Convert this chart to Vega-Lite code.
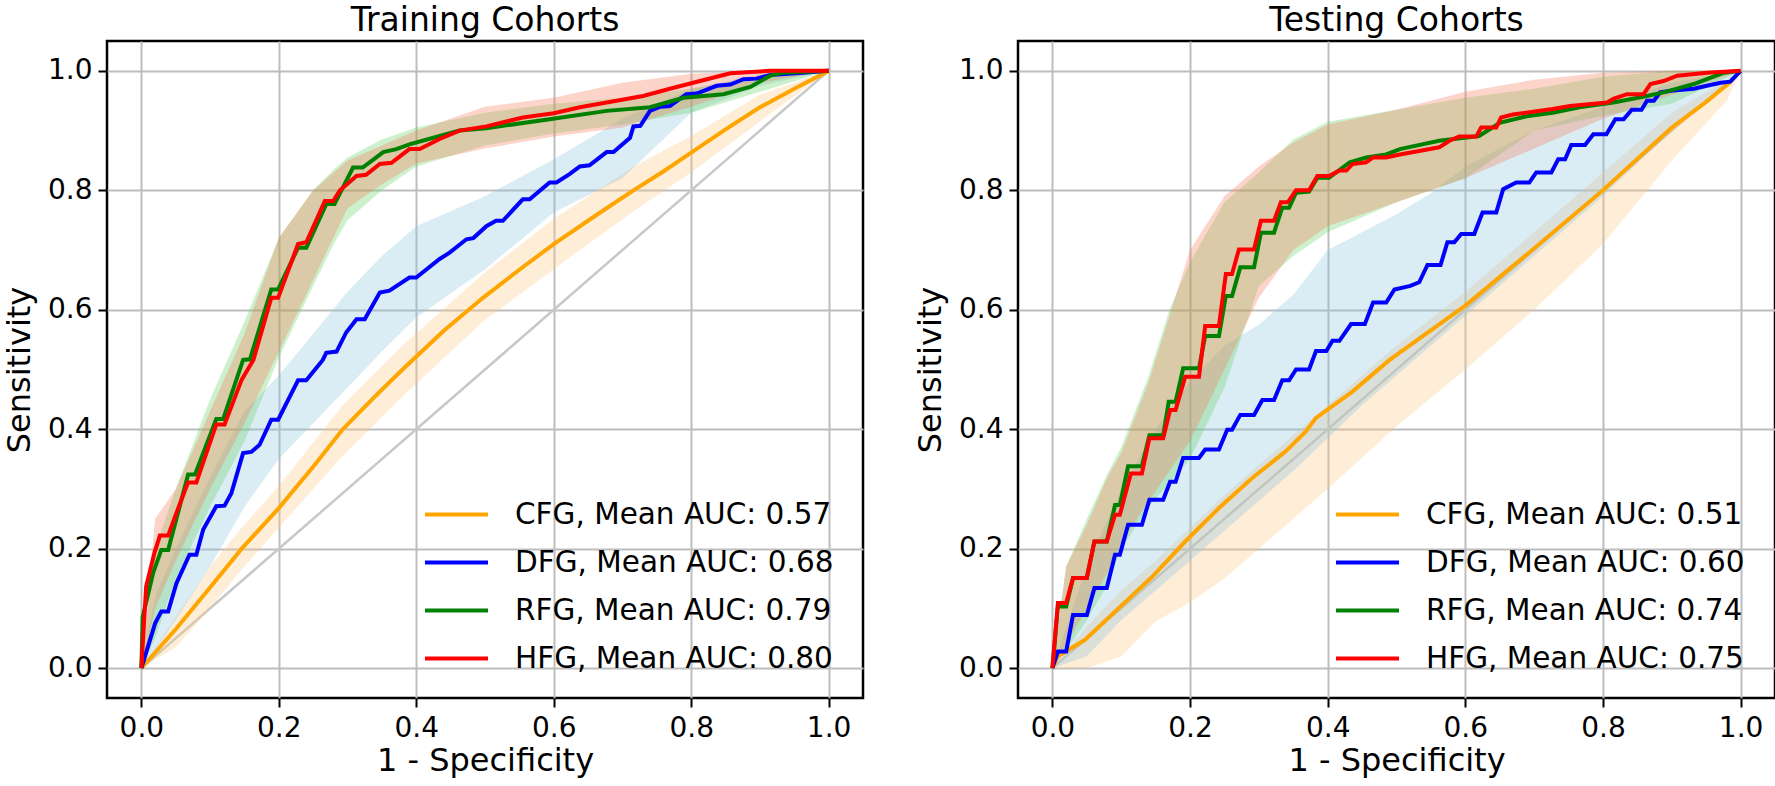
{
  "$schema": "https://vega.github.io/schema/vega-lite/v6.json",
  "padding": {"left": 2, "top": 3, "right": 2, "bottom": 2},
  "config": {
    "font": "DejaVu Sans",
    "view": {"stroke": "black", "strokeWidth": 2.5},
    "title": {"fontSize": 33, "fontWeight": "normal", "font": "DejaVu Sans", "color": "black", "baseline": "alphabetic", "offset": 3, "anchor": "middle", "frame": "group"},
    "axis": {"labelFontSize": 28, "labelFont": "DejaVu Sans", "labelColor": "black", "titleFontSize": 32, "titleFont": "DejaVu Sans", "titleFontWeight": "normal", "titleColor": "black", "tickColor": "black", "tickSize": 9, "tickWidth": 2, "domain": false, "grid": true, "gridColor": "#bdbdbd", "gridWidth": 2, "labelFlush": false, "labelOverlap": false},
    "axisX": {"labelPadding": 7, "titlePadding": 3},
    "axisY": {"labelPadding": 6, "titlePadding": 11},
    "legend": {"orient": "none", "legendX": 316, "legendY": 440, "padding": 0, "symbolType": "stroke", "symbolSize": 3969, "symbolStrokeWidth": 4, "labelFontSize": 29.5, "labelFont": "DejaVu Sans", "labelColor": "black", "labelOffset": 25, "rowPadding": -4, "labelLimit": 0}
  },
  "datasets": {
    "diag": [{"fpr": 0, "tpr": 0}, {"fpr": 1, "tpr": 1}],
    "train_band": [
      {"series": "CFG", "fpr": 0, "lo": 0, "hi": 0}, {"series": "CFG", "fpr": 0.05, "lo": 0.035, "hi": 0.085}, {"series": "CFG", "fpr": 0.1, "lo": 0.1, "hi": 0.17}, {"series": "CFG", "fpr": 0.146, "lo": 0.165, "hi": 0.235}, {"series": "CFG", "fpr": 0.2, "lo": 0.235, "hi": 0.305}, {"series": "CFG", "fpr": 0.293, "lo": 0.355, "hi": 0.44}, {"series": "CFG", "fpr": 0.38, "lo": 0.455, "hi": 0.54}, {"series": "CFG", "fpr": 0.497, "lo": 0.58, "hi": 0.66}, {"series": "CFG", "fpr": 0.6, "lo": 0.668, "hi": 0.752}, {"series": "CFG", "fpr": 0.716, "lo": 0.765, "hi": 0.84}, {"series": "CFG", "fpr": 0.8, "lo": 0.83, "hi": 0.891}, {"series": "CFG", "fpr": 0.9, "lo": 0.915, "hi": 0.96}, {"series": "CFG", "fpr": 1, "lo": 1, "hi": 1},
      {"series": "DFG", "fpr": 0, "lo": 0, "hi": 0}, {"series": "DFG", "fpr": 0.02, "lo": 0.03, "hi": 0.12}, {"series": "DFG", "fpr": 0.05, "lo": 0.08, "hi": 0.2}, {"series": "DFG", "fpr": 0.1, "lo": 0.17, "hi": 0.32}, {"series": "DFG", "fpr": 0.15, "lo": 0.27, "hi": 0.43}, {"series": "DFG", "fpr": 0.2, "lo": 0.35, "hi": 0.49}, {"series": "DFG", "fpr": 0.25, "lo": 0.41, "hi": 0.56}, {"series": "DFG", "fpr": 0.3, "lo": 0.47, "hi": 0.63}, {"series": "DFG", "fpr": 0.35, "lo": 0.53, "hi": 0.69}, {"series": "DFG", "fpr": 0.4, "lo": 0.587, "hi": 0.74}, {"series": "DFG", "fpr": 0.5, "lo": 0.668, "hi": 0.79}, {"series": "DFG", "fpr": 0.6, "lo": 0.763, "hi": 0.852}, {"series": "DFG", "fpr": 0.7, "lo": 0.82, "hi": 0.92}, {"series": "DFG", "fpr": 0.8, "lo": 0.93, "hi": 0.97}, {"series": "DFG", "fpr": 0.9, "lo": 0.975, "hi": 0.995}, {"series": "DFG", "fpr": 1, "lo": 1, "hi": 1},
      {"series": "RFG", "fpr": 0, "lo": 0, "hi": 0}, {"series": "RFG", "fpr": 0.02, "lo": 0.05, "hi": 0.2}, {"series": "RFG", "fpr": 0.05, "lo": 0.15, "hi": 0.3}, {"series": "RFG", "fpr": 0.1, "lo": 0.27, "hi": 0.45}, {"series": "RFG", "fpr": 0.15, "lo": 0.38, "hi": 0.58}, {"series": "RFG", "fpr": 0.2, "lo": 0.52, "hi": 0.72}, {"series": "RFG", "fpr": 0.25, "lo": 0.64, "hi": 0.8}, {"series": "RFG", "fpr": 0.28, "lo": 0.71, "hi": 0.835}, {"series": "RFG", "fpr": 0.3, "lo": 0.75, "hi": 0.855}, {"series": "RFG", "fpr": 0.35, "lo": 0.8, "hi": 0.885}, {"series": "RFG", "fpr": 0.4, "lo": 0.84, "hi": 0.905}, {"series": "RFG", "fpr": 0.5, "lo": 0.875, "hi": 0.93}, {"series": "RFG", "fpr": 0.6, "lo": 0.895, "hi": 0.945}, {"series": "RFG", "fpr": 0.7, "lo": 0.91, "hi": 0.955}, {"series": "RFG", "fpr": 0.8, "lo": 0.93, "hi": 0.97}, {"series": "RFG", "fpr": 0.9, "lo": 0.965, "hi": 0.99}, {"series": "RFG", "fpr": 1, "lo": 1, "hi": 1},
      {"series": "HFG", "fpr": 0, "lo": 0, "hi": 0}, {"series": "HFG", "fpr": 0.02, "lo": 0.1, "hi": 0.25}, {"series": "HFG", "fpr": 0.05, "lo": 0.18, "hi": 0.3}, {"series": "HFG", "fpr": 0.1, "lo": 0.3, "hi": 0.43}, {"series": "HFG", "fpr": 0.15, "lo": 0.41, "hi": 0.56}, {"series": "HFG", "fpr": 0.2, "lo": 0.53, "hi": 0.72}, {"series": "HFG", "fpr": 0.25, "lo": 0.65, "hi": 0.8}, {"series": "HFG", "fpr": 0.3, "lo": 0.77, "hi": 0.85}, {"series": "HFG", "fpr": 0.35, "lo": 0.81, "hi": 0.875}, {"series": "HFG", "fpr": 0.4, "lo": 0.845, "hi": 0.9}, {"series": "HFG", "fpr": 0.5, "lo": 0.87, "hi": 0.94}, {"series": "HFG", "fpr": 0.6, "lo": 0.89, "hi": 0.955}, {"series": "HFG", "fpr": 0.7, "lo": 0.905, "hi": 0.98}, {"series": "HFG", "fpr": 0.8, "lo": 0.94, "hi": 0.995}, {"series": "HFG", "fpr": 0.9, "lo": 0.98, "hi": 1.0}, {"series": "HFG", "fpr": 1, "lo": 1, "hi": 1}
    ],
    "train_mean": [
      {"series": "CFG, Mean AUC: 0.57", "fpr": 0, "tpr": 0}, {"series": "CFG, Mean AUC: 0.57", "fpr": 0.05, "tpr": 0.065}, {"series": "CFG, Mean AUC: 0.57", "fpr": 0.1, "tpr": 0.135}, {"series": "CFG, Mean AUC: 0.57", "fpr": 0.146, "tpr": 0.2}, {"series": "CFG, Mean AUC: 0.57", "fpr": 0.2, "tpr": 0.268}, {"series": "CFG, Mean AUC: 0.57", "fpr": 0.25, "tpr": 0.337}, {"series": "CFG, Mean AUC: 0.57", "fpr": 0.293, "tpr": 0.4}, {"series": "CFG, Mean AUC: 0.57", "fpr": 0.34, "tpr": 0.455}, {"series": "CFG, Mean AUC: 0.57", "fpr": 0.38, "tpr": 0.5}, {"series": "CFG, Mean AUC: 0.57", "fpr": 0.44, "tpr": 0.565}, {"series": "CFG, Mean AUC: 0.57", "fpr": 0.497, "tpr": 0.62}, {"series": "CFG, Mean AUC: 0.57", "fpr": 0.55, "tpr": 0.667}, {"series": "CFG, Mean AUC: 0.57", "fpr": 0.6, "tpr": 0.71}, {"series": "CFG, Mean AUC: 0.57", "fpr": 0.66, "tpr": 0.757}, {"series": "CFG, Mean AUC: 0.57", "fpr": 0.716, "tpr": 0.8}, {"series": "CFG, Mean AUC: 0.57", "fpr": 0.76, "tpr": 0.832}, {"series": "CFG, Mean AUC: 0.57", "fpr": 0.8, "tpr": 0.863}, {"series": "CFG, Mean AUC: 0.57", "fpr": 0.85, "tpr": 0.902}, {"series": "CFG, Mean AUC: 0.57", "fpr": 0.9, "tpr": 0.939}, {"series": "CFG, Mean AUC: 0.57", "fpr": 0.95, "tpr": 0.97}, {"series": "CFG, Mean AUC: 0.57", "fpr": 1, "tpr": 1},
      {"series": "DFG, Mean AUC: 0.68", "fpr": 0, "tpr": 0}, {"series": "DFG, Mean AUC: 0.68", "fpr": 0.02, "tpr": 0.075}, {"series": "DFG, Mean AUC: 0.68", "fpr": 0.029, "tpr": 0.095}, {"series": "DFG, Mean AUC: 0.68", "fpr": 0.039, "tpr": 0.095}, {"series": "DFG, Mean AUC: 0.68", "fpr": 0.051, "tpr": 0.142}, {"series": "DFG, Mean AUC: 0.68", "fpr": 0.07, "tpr": 0.19}, {"series": "DFG, Mean AUC: 0.68", "fpr": 0.08, "tpr": 0.19}, {"series": "DFG, Mean AUC: 0.68", "fpr": 0.09, "tpr": 0.232}, {"series": "DFG, Mean AUC: 0.68", "fpr": 0.109, "tpr": 0.271}, {"series": "DFG, Mean AUC: 0.68", "fpr": 0.121, "tpr": 0.272}, {"series": "DFG, Mean AUC: 0.68", "fpr": 0.131, "tpr": 0.293}, {"series": "DFG, Mean AUC: 0.68", "fpr": 0.148, "tpr": 0.36}, {"series": "DFG, Mean AUC: 0.68", "fpr": 0.16, "tpr": 0.362}, {"series": "DFG, Mean AUC: 0.68", "fpr": 0.172, "tpr": 0.374}, {"series": "DFG, Mean AUC: 0.68", "fpr": 0.189, "tpr": 0.416}, {"series": "DFG, Mean AUC: 0.68", "fpr": 0.199, "tpr": 0.416}, {"series": "DFG, Mean AUC: 0.68", "fpr": 0.228, "tpr": 0.482}, {"series": "DFG, Mean AUC: 0.68", "fpr": 0.24, "tpr": 0.482}, {"series": "DFG, Mean AUC: 0.68", "fpr": 0.264, "tpr": 0.516}, {"series": "DFG, Mean AUC: 0.68", "fpr": 0.269, "tpr": 0.528}, {"series": "DFG, Mean AUC: 0.68", "fpr": 0.284, "tpr": 0.53}, {"series": "DFG, Mean AUC: 0.68", "fpr": 0.298, "tpr": 0.562}, {"series": "DFG, Mean AUC: 0.68", "fpr": 0.313, "tpr": 0.584}, {"series": "DFG, Mean AUC: 0.68", "fpr": 0.325, "tpr": 0.584}, {"series": "DFG, Mean AUC: 0.68", "fpr": 0.347, "tpr": 0.629}, {"series": "DFG, Mean AUC: 0.68", "fpr": 0.361, "tpr": 0.632}, {"series": "DFG, Mean AUC: 0.68", "fpr": 0.39, "tpr": 0.654}, {"series": "DFG, Mean AUC: 0.68", "fpr": 0.4, "tpr": 0.654}, {"series": "DFG, Mean AUC: 0.68", "fpr": 0.434, "tpr": 0.685}, {"series": "DFG, Mean AUC: 0.68", "fpr": 0.449, "tpr": 0.696}, {"series": "DFG, Mean AUC: 0.68", "fpr": 0.473, "tpr": 0.718}, {"series": "DFG, Mean AUC: 0.68", "fpr": 0.483, "tpr": 0.72}, {"series": "DFG, Mean AUC: 0.68", "fpr": 0.502, "tpr": 0.74}, {"series": "DFG, Mean AUC: 0.68", "fpr": 0.516, "tpr": 0.749}, {"series": "DFG, Mean AUC: 0.68", "fpr": 0.526, "tpr": 0.749}, {"series": "DFG, Mean AUC: 0.68", "fpr": 0.555, "tpr": 0.785}, {"series": "DFG, Mean AUC: 0.68", "fpr": 0.565, "tpr": 0.785}, {"series": "DFG, Mean AUC: 0.68", "fpr": 0.594, "tpr": 0.813}, {"series": "DFG, Mean AUC: 0.68", "fpr": 0.604, "tpr": 0.813}, {"series": "DFG, Mean AUC: 0.68", "fpr": 0.623, "tpr": 0.827}, {"series": "DFG, Mean AUC: 0.68", "fpr": 0.638, "tpr": 0.84}, {"series": "DFG, Mean AUC: 0.68", "fpr": 0.652, "tpr": 0.842}, {"series": "DFG, Mean AUC: 0.68", "fpr": 0.677, "tpr": 0.864}, {"series": "DFG, Mean AUC: 0.68", "fpr": 0.687, "tpr": 0.864}, {"series": "DFG, Mean AUC: 0.68", "fpr": 0.711, "tpr": 0.888}, {"series": "DFG, Mean AUC: 0.68", "fpr": 0.716, "tpr": 0.907}, {"series": "DFG, Mean AUC: 0.68", "fpr": 0.726, "tpr": 0.908}, {"series": "DFG, Mean AUC: 0.68", "fpr": 0.74, "tpr": 0.933}, {"series": "DFG, Mean AUC: 0.68", "fpr": 0.755, "tpr": 0.94}, {"series": "DFG, Mean AUC: 0.68", "fpr": 0.769, "tpr": 0.941}, {"series": "DFG, Mean AUC: 0.68", "fpr": 0.793, "tpr": 0.961}, {"series": "DFG, Mean AUC: 0.68", "fpr": 0.808, "tpr": 0.962}, {"series": "DFG, Mean AUC: 0.68", "fpr": 0.837, "tpr": 0.975}, {"series": "DFG, Mean AUC: 0.68", "fpr": 0.857, "tpr": 0.977}, {"series": "DFG, Mean AUC: 0.68", "fpr": 0.876, "tpr": 0.986}, {"series": "DFG, Mean AUC: 0.68", "fpr": 0.895, "tpr": 0.987}, {"series": "DFG, Mean AUC: 0.68", "fpr": 0.915, "tpr": 0.993}, {"series": "DFG, Mean AUC: 0.68", "fpr": 0.963, "tpr": 0.997}, {"series": "DFG, Mean AUC: 0.68", "fpr": 1, "tpr": 1},
      {"series": "RFG, Mean AUC: 0.79", "fpr": 0, "tpr": 0}, {"series": "RFG, Mean AUC: 0.79", "fpr": 0.002, "tpr": 0.086}, {"series": "RFG, Mean AUC: 0.79", "fpr": 0.017, "tpr": 0.159}, {"series": "RFG, Mean AUC: 0.79", "fpr": 0.029, "tpr": 0.198}, {"series": "RFG, Mean AUC: 0.79", "fpr": 0.039, "tpr": 0.198}, {"series": "RFG, Mean AUC: 0.79", "fpr": 0.068, "tpr": 0.324}, {"series": "RFG, Mean AUC: 0.79", "fpr": 0.078, "tpr": 0.324}, {"series": "RFG, Mean AUC: 0.79", "fpr": 0.109, "tpr": 0.417}, {"series": "RFG, Mean AUC: 0.79", "fpr": 0.119, "tpr": 0.417}, {"series": "RFG, Mean AUC: 0.79", "fpr": 0.148, "tpr": 0.516}, {"series": "RFG, Mean AUC: 0.79", "fpr": 0.158, "tpr": 0.517}, {"series": "RFG, Mean AUC: 0.79", "fpr": 0.189, "tpr": 0.634}, {"series": "RFG, Mean AUC: 0.79", "fpr": 0.199, "tpr": 0.634}, {"series": "RFG, Mean AUC: 0.79", "fpr": 0.228, "tpr": 0.704}, {"series": "RFG, Mean AUC: 0.79", "fpr": 0.24, "tpr": 0.704}, {"series": "RFG, Mean AUC: 0.79", "fpr": 0.269, "tpr": 0.777}, {"series": "RFG, Mean AUC: 0.79", "fpr": 0.281, "tpr": 0.777}, {"series": "RFG, Mean AUC: 0.79", "fpr": 0.308, "tpr": 0.838}, {"series": "RFG, Mean AUC: 0.79", "fpr": 0.322, "tpr": 0.838}, {"series": "RFG, Mean AUC: 0.79", "fpr": 0.352, "tpr": 0.864}, {"series": "RFG, Mean AUC: 0.79", "fpr": 0.371, "tpr": 0.869}, {"series": "RFG, Mean AUC: 0.79", "fpr": 0.39, "tpr": 0.877}, {"series": "RFG, Mean AUC: 0.79", "fpr": 0.434, "tpr": 0.891}, {"series": "RFG, Mean AUC: 0.79", "fpr": 0.463, "tpr": 0.9}, {"series": "RFG, Mean AUC: 0.79", "fpr": 0.502, "tpr": 0.904}, {"series": "RFG, Mean AUC: 0.79", "fpr": 0.594, "tpr": 0.919}, {"series": "RFG, Mean AUC: 0.79", "fpr": 0.677, "tpr": 0.933}, {"series": "RFG, Mean AUC: 0.79", "fpr": 0.74, "tpr": 0.939}, {"series": "RFG, Mean AUC: 0.79", "fpr": 0.789, "tpr": 0.955}, {"series": "RFG, Mean AUC: 0.79", "fpr": 0.847, "tpr": 0.961}, {"series": "RFG, Mean AUC: 0.79", "fpr": 0.886, "tpr": 0.973}, {"series": "RFG, Mean AUC: 0.79", "fpr": 0.915, "tpr": 0.992}, {"series": "RFG, Mean AUC: 0.79", "fpr": 0.934, "tpr": 0.997}, {"series": "RFG, Mean AUC: 0.79", "fpr": 1, "tpr": 1},
      {"series": "HFG, Mean AUC: 0.80", "fpr": 0, "tpr": 0}, {"series": "HFG, Mean AUC: 0.80", "fpr": 0.007, "tpr": 0.137}, {"series": "HFG, Mean AUC: 0.80", "fpr": 0.019, "tpr": 0.193}, {"series": "HFG, Mean AUC: 0.80", "fpr": 0.027, "tpr": 0.222}, {"series": "HFG, Mean AUC: 0.80", "fpr": 0.039, "tpr": 0.222}, {"series": "HFG, Mean AUC: 0.80", "fpr": 0.051, "tpr": 0.26}, {"series": "HFG, Mean AUC: 0.80", "fpr": 0.068, "tpr": 0.311}, {"series": "HFG, Mean AUC: 0.80", "fpr": 0.08, "tpr": 0.311}, {"series": "HFG, Mean AUC: 0.80", "fpr": 0.109, "tpr": 0.408}, {"series": "HFG, Mean AUC: 0.80", "fpr": 0.121, "tpr": 0.408}, {"series": "HFG, Mean AUC: 0.80", "fpr": 0.146, "tpr": 0.483}, {"series": "HFG, Mean AUC: 0.80", "fpr": 0.163, "tpr": 0.516}, {"series": "HFG, Mean AUC: 0.80", "fpr": 0.189, "tpr": 0.62}, {"series": "HFG, Mean AUC: 0.80", "fpr": 0.199, "tpr": 0.62}, {"series": "HFG, Mean AUC: 0.80", "fpr": 0.228, "tpr": 0.71}, {"series": "HFG, Mean AUC: 0.80", "fpr": 0.24, "tpr": 0.713}, {"series": "HFG, Mean AUC: 0.80", "fpr": 0.267, "tpr": 0.782}, {"series": "HFG, Mean AUC: 0.80", "fpr": 0.279, "tpr": 0.782}, {"series": "HFG, Mean AUC: 0.80", "fpr": 0.289, "tpr": 0.8}, {"series": "HFG, Mean AUC: 0.80", "fpr": 0.313, "tpr": 0.824}, {"series": "HFG, Mean AUC: 0.80", "fpr": 0.327, "tpr": 0.826}, {"series": "HFG, Mean AUC: 0.80", "fpr": 0.347, "tpr": 0.844}, {"series": "HFG, Mean AUC: 0.80", "fpr": 0.364, "tpr": 0.846}, {"series": "HFG, Mean AUC: 0.80", "fpr": 0.39, "tpr": 0.869}, {"series": "HFG, Mean AUC: 0.80", "fpr": 0.405, "tpr": 0.869}, {"series": "HFG, Mean AUC: 0.80", "fpr": 0.434, "tpr": 0.886}, {"series": "HFG, Mean AUC: 0.80", "fpr": 0.463, "tpr": 0.9}, {"series": "HFG, Mean AUC: 0.80", "fpr": 0.502, "tpr": 0.907}, {"series": "HFG, Mean AUC: 0.80", "fpr": 0.555, "tpr": 0.922}, {"series": "HFG, Mean AUC: 0.80", "fpr": 0.6, "tpr": 0.929}, {"series": "HFG, Mean AUC: 0.80", "fpr": 0.638, "tpr": 0.939}, {"series": "HFG, Mean AUC: 0.80", "fpr": 0.677, "tpr": 0.947}, {"series": "HFG, Mean AUC: 0.80", "fpr": 0.73, "tpr": 0.958}, {"series": "HFG, Mean AUC: 0.80", "fpr": 0.769, "tpr": 0.97}, {"series": "HFG, Mean AUC: 0.80", "fpr": 0.803, "tpr": 0.98}, {"series": "HFG, Mean AUC: 0.80", "fpr": 0.857, "tpr": 0.996}, {"series": "HFG, Mean AUC: 0.80", "fpr": 0.915, "tpr": 1.0}, {"series": "HFG, Mean AUC: 0.80", "fpr": 1, "tpr": 1}
    ],
    "test_band": [
      {"series": "CFG", "fpr": 0, "lo": 0, "hi": 0}, {"series": "CFG", "fpr": 0.05, "lo": 0, "hi": 0.07}, {"series": "CFG", "fpr": 0.1, "lo": 0.02, "hi": 0.13}, {"series": "CFG", "fpr": 0.15, "lo": 0.078, "hi": 0.18}, {"series": "CFG", "fpr": 0.2, "lo": 0.11, "hi": 0.235}, {"series": "CFG", "fpr": 0.25, "lo": 0.15, "hi": 0.29}, {"series": "CFG", "fpr": 0.3, "lo": 0.2, "hi": 0.34}, {"series": "CFG", "fpr": 0.4, "lo": 0.3, "hi": 0.44}, {"series": "CFG", "fpr": 0.5, "lo": 0.405, "hi": 0.54}, {"series": "CFG", "fpr": 0.6, "lo": 0.5, "hi": 0.63}, {"series": "CFG", "fpr": 0.7, "lo": 0.6, "hi": 0.73}, {"series": "CFG", "fpr": 0.8, "lo": 0.71, "hi": 0.83}, {"series": "CFG", "fpr": 0.9, "lo": 0.85, "hi": 0.93}, {"series": "CFG", "fpr": 0.98, "lo": 0.95, "hi": 0.985}, {"series": "CFG", "fpr": 1, "lo": 1, "hi": 1},
      {"series": "DFG", "fpr": 0, "lo": 0, "hi": 0}, {"series": "DFG", "fpr": 0.05, "lo": 0.02, "hi": 0.17}, {"series": "DFG", "fpr": 0.1, "lo": 0.08, "hi": 0.3}, {"series": "DFG", "fpr": 0.15, "lo": 0.13, "hi": 0.4}, {"series": "DFG", "fpr": 0.2, "lo": 0.18, "hi": 0.48}, {"series": "DFG", "fpr": 0.25, "lo": 0.23, "hi": 0.54}, {"series": "DFG", "fpr": 0.3, "lo": 0.28, "hi": 0.575}, {"series": "DFG", "fpr": 0.35, "lo": 0.33, "hi": 0.625}, {"series": "DFG", "fpr": 0.4, "lo": 0.385, "hi": 0.7}, {"series": "DFG", "fpr": 0.45, "lo": 0.44, "hi": 0.73}, {"series": "DFG", "fpr": 0.5, "lo": 0.49, "hi": 0.76}, {"series": "DFG", "fpr": 0.55, "lo": 0.54, "hi": 0.795}, {"series": "DFG", "fpr": 0.6, "lo": 0.59, "hi": 0.84}, {"series": "DFG", "fpr": 0.7, "lo": 0.69, "hi": 0.9}, {"series": "DFG", "fpr": 0.8, "lo": 0.79, "hi": 0.94}, {"series": "DFG", "fpr": 0.9, "lo": 0.9, "hi": 0.98}, {"series": "DFG", "fpr": 1, "lo": 1, "hi": 1},
      {"series": "RFG", "fpr": 0, "lo": 0, "hi": 0}, {"series": "RFG", "fpr": 0.02, "lo": 0.03, "hi": 0.17}, {"series": "RFG", "fpr": 0.05, "lo": 0.08, "hi": 0.25}, {"series": "RFG", "fpr": 0.08, "lo": 0.14, "hi": 0.326}, {"series": "RFG", "fpr": 0.1, "lo": 0.2, "hi": 0.37}, {"series": "RFG", "fpr": 0.14, "lo": 0.27, "hi": 0.49}, {"series": "RFG", "fpr": 0.17, "lo": 0.31, "hi": 0.6}, {"series": "RFG", "fpr": 0.2, "lo": 0.35, "hi": 0.68}, {"series": "RFG", "fpr": 0.25, "lo": 0.47, "hi": 0.78}, {"series": "RFG", "fpr": 0.3, "lo": 0.64, "hi": 0.83}, {"series": "RFG", "fpr": 0.35, "lo": 0.69, "hi": 0.885}, {"series": "RFG", "fpr": 0.4, "lo": 0.73, "hi": 0.915}, {"series": "RFG", "fpr": 0.5, "lo": 0.78, "hi": 0.935}, {"series": "RFG", "fpr": 0.6, "lo": 0.82, "hi": 0.955}, {"series": "RFG", "fpr": 0.7, "lo": 0.9, "hi": 0.97}, {"series": "RFG", "fpr": 0.8, "lo": 0.925, "hi": 0.99}, {"series": "RFG", "fpr": 0.9, "lo": 0.945, "hi": 1.0}, {"series": "RFG", "fpr": 1, "lo": 1, "hi": 1},
      {"series": "HFG", "fpr": 0, "lo": 0, "hi": 0}, {"series": "HFG", "fpr": 0.02, "lo": 0.04, "hi": 0.17}, {"series": "HFG", "fpr": 0.05, "lo": 0.1, "hi": 0.24}, {"series": "HFG", "fpr": 0.08, "lo": 0.16, "hi": 0.32}, {"series": "HFG", "fpr": 0.1, "lo": 0.21, "hi": 0.36}, {"series": "HFG", "fpr": 0.14, "lo": 0.28, "hi": 0.48}, {"series": "HFG", "fpr": 0.17, "lo": 0.33, "hi": 0.59}, {"series": "HFG", "fpr": 0.2, "lo": 0.38, "hi": 0.7}, {"series": "HFG", "fpr": 0.25, "lo": 0.5, "hi": 0.79}, {"series": "HFG", "fpr": 0.3, "lo": 0.62, "hi": 0.84}, {"series": "HFG", "fpr": 0.35, "lo": 0.7, "hi": 0.88}, {"series": "HFG", "fpr": 0.4, "lo": 0.74, "hi": 0.91}, {"series": "HFG", "fpr": 0.5, "lo": 0.78, "hi": 0.935}, {"series": "HFG", "fpr": 0.6, "lo": 0.82, "hi": 0.965}, {"series": "HFG", "fpr": 0.7, "lo": 0.87, "hi": 0.985}, {"series": "HFG", "fpr": 0.8, "lo": 0.92, "hi": 0.997}, {"series": "HFG", "fpr": 0.9, "lo": 0.96, "hi": 1.0}, {"series": "HFG", "fpr": 1, "lo": 1, "hi": 1}
    ],
    "test_mean": [
      {"series": "CFG, Mean AUC: 0.51", "fpr": 0, "tpr": 0}, {"series": "CFG, Mean AUC: 0.51", "fpr": 0.008, "tpr": 0.02}, {"series": "CFG, Mean AUC: 0.51", "fpr": 0.047, "tpr": 0.047}, {"series": "CFG, Mean AUC: 0.51", "fpr": 0.096, "tpr": 0.1}, {"series": "CFG, Mean AUC: 0.51", "fpr": 0.145, "tpr": 0.153}, {"series": "CFG, Mean AUC: 0.51", "fpr": 0.193, "tpr": 0.212}, {"series": "CFG, Mean AUC: 0.51", "fpr": 0.242, "tpr": 0.268}, {"series": "CFG, Mean AUC: 0.51", "fpr": 0.29, "tpr": 0.318}, {"series": "CFG, Mean AUC: 0.51", "fpr": 0.339, "tpr": 0.363}, {"series": "CFG, Mean AUC: 0.51", "fpr": 0.368, "tpr": 0.396}, {"series": "CFG, Mean AUC: 0.51", "fpr": 0.383, "tpr": 0.419}, {"series": "CFG, Mean AUC: 0.51", "fpr": 0.436, "tpr": 0.463}, {"series": "CFG, Mean AUC: 0.51", "fpr": 0.49, "tpr": 0.516}, {"series": "CFG, Mean AUC: 0.51", "fpr": 0.6, "tpr": 0.607}, {"series": "CFG, Mean AUC: 0.51", "fpr": 0.698, "tpr": 0.701}, {"series": "CFG, Mean AUC: 0.51", "fpr": 0.8, "tpr": 0.8}, {"series": "CFG, Mean AUC: 0.51", "fpr": 0.9, "tpr": 0.905}, {"series": "CFG, Mean AUC: 0.51", "fpr": 0.95, "tpr": 0.948}, {"series": "CFG, Mean AUC: 0.51", "fpr": 0.983, "tpr": 0.979}, {"series": "CFG, Mean AUC: 0.51", "fpr": 1, "tpr": 1},
      {"series": "DFG, Mean AUC: 0.60", "fpr": 0, "tpr": 0}, {"series": "DFG, Mean AUC: 0.60", "fpr": 0.008, "tpr": 0.028}, {"series": "DFG, Mean AUC: 0.60", "fpr": 0.02, "tpr": 0.028}, {"series": "DFG, Mean AUC: 0.60", "fpr": 0.03, "tpr": 0.089}, {"series": "DFG, Mean AUC: 0.60", "fpr": 0.05, "tpr": 0.089}, {"series": "DFG, Mean AUC: 0.60", "fpr": 0.061, "tpr": 0.134}, {"series": "DFG, Mean AUC: 0.60", "fpr": 0.079, "tpr": 0.134}, {"series": "DFG, Mean AUC: 0.60", "fpr": 0.091, "tpr": 0.19}, {"series": "DFG, Mean AUC: 0.60", "fpr": 0.098, "tpr": 0.19}, {"series": "DFG, Mean AUC: 0.60", "fpr": 0.11, "tpr": 0.24}, {"series": "DFG, Mean AUC: 0.60", "fpr": 0.13, "tpr": 0.24}, {"series": "DFG, Mean AUC: 0.60", "fpr": 0.141, "tpr": 0.282}, {"series": "DFG, Mean AUC: 0.60", "fpr": 0.161, "tpr": 0.282}, {"series": "DFG, Mean AUC: 0.60", "fpr": 0.171, "tpr": 0.312}, {"series": "DFG, Mean AUC: 0.60", "fpr": 0.179, "tpr": 0.312}, {"series": "DFG, Mean AUC: 0.60", "fpr": 0.19, "tpr": 0.352}, {"series": "DFG, Mean AUC: 0.60", "fpr": 0.213, "tpr": 0.352}, {"series": "DFG, Mean AUC: 0.60", "fpr": 0.222, "tpr": 0.366}, {"series": "DFG, Mean AUC: 0.60", "fpr": 0.242, "tpr": 0.366}, {"series": "DFG, Mean AUC: 0.60", "fpr": 0.254, "tpr": 0.399}, {"series": "DFG, Mean AUC: 0.60", "fpr": 0.261, "tpr": 0.399}, {"series": "DFG, Mean AUC: 0.60", "fpr": 0.273, "tpr": 0.424}, {"series": "DFG, Mean AUC: 0.60", "fpr": 0.293, "tpr": 0.424}, {"series": "DFG, Mean AUC: 0.60", "fpr": 0.305, "tpr": 0.449}, {"series": "DFG, Mean AUC: 0.60", "fpr": 0.322, "tpr": 0.449}, {"series": "DFG, Mean AUC: 0.60", "fpr": 0.334, "tpr": 0.482}, {"series": "DFG, Mean AUC: 0.60", "fpr": 0.344, "tpr": 0.482}, {"series": "DFG, Mean AUC: 0.60", "fpr": 0.354, "tpr": 0.5}, {"series": "DFG, Mean AUC: 0.60", "fpr": 0.373, "tpr": 0.5}, {"series": "DFG, Mean AUC: 0.60", "fpr": 0.383, "tpr": 0.531}, {"series": "DFG, Mean AUC: 0.60", "fpr": 0.398, "tpr": 0.531}, {"series": "DFG, Mean AUC: 0.60", "fpr": 0.407, "tpr": 0.548}, {"series": "DFG, Mean AUC: 0.60", "fpr": 0.417, "tpr": 0.548}, {"series": "DFG, Mean AUC: 0.60", "fpr": 0.434, "tpr": 0.576}, {"series": "DFG, Mean AUC: 0.60", "fpr": 0.454, "tpr": 0.576}, {"series": "DFG, Mean AUC: 0.60", "fpr": 0.466, "tpr": 0.612}, {"series": "DFG, Mean AUC: 0.60", "fpr": 0.485, "tpr": 0.612}, {"series": "DFG, Mean AUC: 0.60", "fpr": 0.497, "tpr": 0.634}, {"series": "DFG, Mean AUC: 0.60", "fpr": 0.52, "tpr": 0.64}, {"series": "DFG, Mean AUC: 0.60", "fpr": 0.533, "tpr": 0.646}, {"series": "DFG, Mean AUC: 0.60", "fpr": 0.545, "tpr": 0.675}, {"series": "DFG, Mean AUC: 0.60", "fpr": 0.564, "tpr": 0.675}, {"series": "DFG, Mean AUC: 0.60", "fpr": 0.574, "tpr": 0.713}, {"series": "DFG, Mean AUC: 0.60", "fpr": 0.584, "tpr": 0.713}, {"series": "DFG, Mean AUC: 0.60", "fpr": 0.594, "tpr": 0.727}, {"series": "DFG, Mean AUC: 0.60", "fpr": 0.613, "tpr": 0.727}, {"series": "DFG, Mean AUC: 0.60", "fpr": 0.625, "tpr": 0.763}, {"series": "DFG, Mean AUC: 0.60", "fpr": 0.645, "tpr": 0.763}, {"series": "DFG, Mean AUC: 0.60", "fpr": 0.655, "tpr": 0.802}, {"series": "DFG, Mean AUC: 0.60", "fpr": 0.674, "tpr": 0.813}, {"series": "DFG, Mean AUC: 0.60", "fpr": 0.693, "tpr": 0.813}, {"series": "DFG, Mean AUC: 0.60", "fpr": 0.703, "tpr": 0.83}, {"series": "DFG, Mean AUC: 0.60", "fpr": 0.725, "tpr": 0.83}, {"series": "DFG, Mean AUC: 0.60", "fpr": 0.735, "tpr": 0.852}, {"series": "DFG, Mean AUC: 0.60", "fpr": 0.745, "tpr": 0.852}, {"series": "DFG, Mean AUC: 0.60", "fpr": 0.754, "tpr": 0.876}, {"series": "DFG, Mean AUC: 0.60", "fpr": 0.774, "tpr": 0.876}, {"series": "DFG, Mean AUC: 0.60", "fpr": 0.786, "tpr": 0.894}, {"series": "DFG, Mean AUC: 0.60", "fpr": 0.805, "tpr": 0.894}, {"series": "DFG, Mean AUC: 0.60", "fpr": 0.818, "tpr": 0.919}, {"series": "DFG, Mean AUC: 0.60", "fpr": 0.83, "tpr": 0.919}, {"series": "DFG, Mean AUC: 0.60", "fpr": 0.842, "tpr": 0.935}, {"series": "DFG, Mean AUC: 0.60", "fpr": 0.856, "tpr": 0.935}, {"series": "DFG, Mean AUC: 0.60", "fpr": 0.864, "tpr": 0.95}, {"series": "DFG, Mean AUC: 0.60", "fpr": 0.874, "tpr": 0.95}, {"series": "DFG, Mean AUC: 0.60", "fpr": 0.883, "tpr": 0.964}, {"series": "DFG, Mean AUC: 0.60", "fpr": 0.902, "tpr": 0.967}, {"series": "DFG, Mean AUC: 0.60", "fpr": 0.932, "tpr": 0.97}, {"series": "DFG, Mean AUC: 0.60", "fpr": 0.951, "tpr": 0.975}, {"series": "DFG, Mean AUC: 0.60", "fpr": 0.971, "tpr": 0.98}, {"series": "DFG, Mean AUC: 0.60", "fpr": 0.985, "tpr": 0.982}, {"series": "DFG, Mean AUC: 0.60", "fpr": 1, "tpr": 1},
      {"series": "RFG, Mean AUC: 0.74", "fpr": 0, "tpr": 0}, {"series": "RFG, Mean AUC: 0.74", "fpr": 0.008, "tpr": 0.103}, {"series": "RFG, Mean AUC: 0.74", "fpr": 0.02, "tpr": 0.103}, {"series": "RFG, Mean AUC: 0.74", "fpr": 0.03, "tpr": 0.151}, {"series": "RFG, Mean AUC: 0.74", "fpr": 0.05, "tpr": 0.151}, {"series": "RFG, Mean AUC: 0.74", "fpr": 0.061, "tpr": 0.212}, {"series": "RFG, Mean AUC: 0.74", "fpr": 0.079, "tpr": 0.212}, {"series": "RFG, Mean AUC: 0.74", "fpr": 0.091, "tpr": 0.273}, {"series": "RFG, Mean AUC: 0.74", "fpr": 0.098, "tpr": 0.273}, {"series": "RFG, Mean AUC: 0.74", "fpr": 0.11, "tpr": 0.338}, {"series": "RFG, Mean AUC: 0.74", "fpr": 0.13, "tpr": 0.338}, {"series": "RFG, Mean AUC: 0.74", "fpr": 0.141, "tpr": 0.39}, {"series": "RFG, Mean AUC: 0.74", "fpr": 0.161, "tpr": 0.39}, {"series": "RFG, Mean AUC: 0.74", "fpr": 0.169, "tpr": 0.446}, {"series": "RFG, Mean AUC: 0.74", "fpr": 0.179, "tpr": 0.446}, {"series": "RFG, Mean AUC: 0.74", "fpr": 0.19, "tpr": 0.502}, {"series": "RFG, Mean AUC: 0.74", "fpr": 0.213, "tpr": 0.502}, {"series": "RFG, Mean AUC: 0.74", "fpr": 0.222, "tpr": 0.556}, {"series": "RFG, Mean AUC: 0.74", "fpr": 0.242, "tpr": 0.556}, {"series": "RFG, Mean AUC: 0.74", "fpr": 0.252, "tpr": 0.623}, {"series": "RFG, Mean AUC: 0.74", "fpr": 0.261, "tpr": 0.623}, {"series": "RFG, Mean AUC: 0.74", "fpr": 0.273, "tpr": 0.671}, {"series": "RFG, Mean AUC: 0.74", "fpr": 0.293, "tpr": 0.671}, {"series": "RFG, Mean AUC: 0.74", "fpr": 0.303, "tpr": 0.729}, {"series": "RFG, Mean AUC: 0.74", "fpr": 0.322, "tpr": 0.729}, {"series": "RFG, Mean AUC: 0.74", "fpr": 0.334, "tpr": 0.771}, {"series": "RFG, Mean AUC: 0.74", "fpr": 0.344, "tpr": 0.771}, {"series": "RFG, Mean AUC: 0.74", "fpr": 0.354, "tpr": 0.796}, {"series": "RFG, Mean AUC: 0.74", "fpr": 0.373, "tpr": 0.798}, {"series": "RFG, Mean AUC: 0.74", "fpr": 0.385, "tpr": 0.821}, {"series": "RFG, Mean AUC: 0.74", "fpr": 0.402, "tpr": 0.821}, {"series": "RFG, Mean AUC: 0.74", "fpr": 0.432, "tpr": 0.847}, {"series": "RFG, Mean AUC: 0.74", "fpr": 0.456, "tpr": 0.855}, {"series": "RFG, Mean AUC: 0.74", "fpr": 0.485, "tpr": 0.86}, {"series": "RFG, Mean AUC: 0.74", "fpr": 0.505, "tpr": 0.869}, {"series": "RFG, Mean AUC: 0.74", "fpr": 0.562, "tpr": 0.883}, {"series": "RFG, Mean AUC: 0.74", "fpr": 0.62, "tpr": 0.891}, {"series": "RFG, Mean AUC: 0.74", "fpr": 0.65, "tpr": 0.913}, {"series": "RFG, Mean AUC: 0.74", "fpr": 0.689, "tpr": 0.924}, {"series": "RFG, Mean AUC: 0.74", "fpr": 0.727, "tpr": 0.93}, {"series": "RFG, Mean AUC: 0.74", "fpr": 0.766, "tpr": 0.939}, {"series": "RFG, Mean AUC: 0.74", "fpr": 0.815, "tpr": 0.947}, {"series": "RFG, Mean AUC: 0.74", "fpr": 0.864, "tpr": 0.958}, {"series": "RFG, Mean AUC: 0.74", "fpr": 0.888, "tpr": 0.964}, {"series": "RFG, Mean AUC: 0.74", "fpr": 0.932, "tpr": 0.978}, {"series": "RFG, Mean AUC: 0.74", "fpr": 0.951, "tpr": 0.986}, {"series": "RFG, Mean AUC: 0.74", "fpr": 0.976, "tpr": 0.997}, {"series": "RFG, Mean AUC: 0.74", "fpr": 1, "tpr": 1},
      {"series": "HFG, Mean AUC: 0.75", "fpr": 0, "tpr": 0}, {"series": "HFG, Mean AUC: 0.75", "fpr": 0.008, "tpr": 0.109}, {"series": "HFG, Mean AUC: 0.75", "fpr": 0.02, "tpr": 0.109}, {"series": "HFG, Mean AUC: 0.75", "fpr": 0.03, "tpr": 0.151}, {"series": "HFG, Mean AUC: 0.75", "fpr": 0.05, "tpr": 0.151}, {"series": "HFG, Mean AUC: 0.75", "fpr": 0.061, "tpr": 0.212}, {"series": "HFG, Mean AUC: 0.75", "fpr": 0.079, "tpr": 0.212}, {"series": "HFG, Mean AUC: 0.75", "fpr": 0.091, "tpr": 0.257}, {"series": "HFG, Mean AUC: 0.75", "fpr": 0.098, "tpr": 0.257}, {"series": "HFG, Mean AUC: 0.75", "fpr": 0.114, "tpr": 0.326}, {"series": "HFG, Mean AUC: 0.75", "fpr": 0.13, "tpr": 0.326}, {"series": "HFG, Mean AUC: 0.75", "fpr": 0.141, "tpr": 0.385}, {"series": "HFG, Mean AUC: 0.75", "fpr": 0.161, "tpr": 0.385}, {"series": "HFG, Mean AUC: 0.75", "fpr": 0.171, "tpr": 0.432}, {"series": "HFG, Mean AUC: 0.75", "fpr": 0.179, "tpr": 0.432}, {"series": "HFG, Mean AUC: 0.75", "fpr": 0.193, "tpr": 0.488}, {"series": "HFG, Mean AUC: 0.75", "fpr": 0.213, "tpr": 0.488}, {"series": "HFG, Mean AUC: 0.75", "fpr": 0.222, "tpr": 0.573}, {"series": "HFG, Mean AUC: 0.75", "fpr": 0.242, "tpr": 0.573}, {"series": "HFG, Mean AUC: 0.75", "fpr": 0.252, "tpr": 0.66}, {"series": "HFG, Mean AUC: 0.75", "fpr": 0.261, "tpr": 0.66}, {"series": "HFG, Mean AUC: 0.75", "fpr": 0.271, "tpr": 0.701}, {"series": "HFG, Mean AUC: 0.75", "fpr": 0.293, "tpr": 0.701}, {"series": "HFG, Mean AUC: 0.75", "fpr": 0.303, "tpr": 0.749}, {"series": "HFG, Mean AUC: 0.75", "fpr": 0.322, "tpr": 0.749}, {"series": "HFG, Mean AUC: 0.75", "fpr": 0.332, "tpr": 0.78}, {"series": "HFG, Mean AUC: 0.75", "fpr": 0.342, "tpr": 0.78}, {"series": "HFG, Mean AUC: 0.75", "fpr": 0.354, "tpr": 0.8}, {"series": "HFG, Mean AUC: 0.75", "fpr": 0.373, "tpr": 0.8}, {"series": "HFG, Mean AUC: 0.75", "fpr": 0.385, "tpr": 0.824}, {"series": "HFG, Mean AUC: 0.75", "fpr": 0.402, "tpr": 0.824}, {"series": "HFG, Mean AUC: 0.75", "fpr": 0.417, "tpr": 0.833}, {"series": "HFG, Mean AUC: 0.75", "fpr": 0.427, "tpr": 0.833}, {"series": "HFG, Mean AUC: 0.75", "fpr": 0.436, "tpr": 0.844}, {"series": "HFG, Mean AUC: 0.75", "fpr": 0.456, "tpr": 0.847}, {"series": "HFG, Mean AUC: 0.75", "fpr": 0.466, "tpr": 0.855}, {"series": "HFG, Mean AUC: 0.75", "fpr": 0.485, "tpr": 0.855}, {"series": "HFG, Mean AUC: 0.75", "fpr": 0.505, "tpr": 0.86}, {"series": "HFG, Mean AUC: 0.75", "fpr": 0.562, "tpr": 0.872}, {"series": "HFG, Mean AUC: 0.75", "fpr": 0.577, "tpr": 0.883}, {"series": "HFG, Mean AUC: 0.75", "fpr": 0.591, "tpr": 0.89}, {"series": "HFG, Mean AUC: 0.75", "fpr": 0.616, "tpr": 0.89}, {"series": "HFG, Mean AUC: 0.75", "fpr": 0.623, "tpr": 0.905}, {"series": "HFG, Mean AUC: 0.75", "fpr": 0.645, "tpr": 0.905}, {"series": "HFG, Mean AUC: 0.75", "fpr": 0.652, "tpr": 0.922}, {"series": "HFG, Mean AUC: 0.75", "fpr": 0.669, "tpr": 0.927}, {"series": "HFG, Mean AUC: 0.75", "fpr": 0.727, "tpr": 0.936}, {"series": "HFG, Mean AUC: 0.75", "fpr": 0.752, "tpr": 0.941}, {"series": "HFG, Mean AUC: 0.75", "fpr": 0.806, "tpr": 0.947}, {"series": "HFG, Mean AUC: 0.75", "fpr": 0.815, "tpr": 0.953}, {"series": "HFG, Mean AUC: 0.75", "fpr": 0.835, "tpr": 0.961}, {"series": "HFG, Mean AUC: 0.75", "fpr": 0.859, "tpr": 0.961}, {"series": "HFG, Mean AUC: 0.75", "fpr": 0.869, "tpr": 0.978}, {"series": "HFG, Mean AUC: 0.75", "fpr": 0.888, "tpr": 0.983}, {"series": "HFG, Mean AUC: 0.75", "fpr": 0.908, "tpr": 0.992}, {"series": "HFG, Mean AUC: 0.75", "fpr": 0.951, "tpr": 0.997}, {"series": "HFG, Mean AUC: 0.75", "fpr": 1, "tpr": 1}
    ]
  },
  "bounds": "flush",
  "spacing": 155,
  "resolve": {"scale": {"stroke": "independent", "fill": "independent", "x": "independent", "y": "independent"}, "legend": {"stroke": "independent"}},
  "hconcat": [
    {
      "title": "Training Cohorts",
      "width": 756,
      "height": 657,
      "layer": [
        {
          "data": {"name": "diag"},
          "mark": {"type": "line", "color": "#c8c8c8", "strokeWidth": 2.5},
          "encoding": {
            "x": {"field": "fpr", "type": "quantitative", "scale": {"domain": [-0.05, 1.05], "nice": false, "zero": false}, "axis": {"title": "1 - Specificity", "values": [0, 0.2, 0.4, 0.6, 0.8, 1.0], "format": ".1f"}},
            "y": {"field": "tpr", "type": "quantitative", "scale": {"domain": [-0.05, 1.05], "nice": false, "zero": false}, "axis": {"title": "Sensitivity", "values": [0, 0.2, 0.4, 0.6, 0.8, 1.0], "format": ".1f"}}
          }
        },
        {
          "data": {"name": "train_band"},
          "mark": {"type": "area", "opacity": 0.32},
          "encoding": {
            "x": {"field": "fpr", "type": "quantitative"},
            "y": {"field": "lo", "type": "quantitative"},
            "y2": {"field": "hi"},
            "fill": {"field": "series", "type": "nominal", "scale": {"domain": ["CFG", "DFG", "RFG", "HFG"], "range": ["#FFC984", "#8CC3DD", "#62D462", "#F67956"]}, "legend": null}
          }
        },
        {
          "data": {"name": "train_mean"},
          "mark": {"type": "line", "strokeWidth": 4},
          "encoding": {
            "x": {"field": "fpr", "type": "quantitative"},
            "y": {"field": "tpr", "type": "quantitative"},
            "stroke": {"field": "series", "type": "nominal", "scale": {"domain": ["CFG, Mean AUC: 0.57", "DFG, Mean AUC: 0.68", "RFG, Mean AUC: 0.79", "HFG, Mean AUC: 0.80"], "range": ["#FFA500", "#0000FF", "#008000", "#FF0000"]}, "legend": {"title": null}}
          }
        }
      ]
    },
    {
      "title": "Testing Cohorts",
      "width": 757,
      "height": 657,
      "layer": [
        {
          "data": {"name": "diag"},
          "mark": {"type": "line", "color": "#c8c8c8", "strokeWidth": 2.5},
          "encoding": {
            "x": {"field": "fpr", "type": "quantitative", "scale": {"domain": [-0.05, 1.05], "nice": false, "zero": false}, "axis": {"title": "1 - Specificity", "values": [0, 0.2, 0.4, 0.6, 0.8, 1.0], "format": ".1f"}},
            "y": {"field": "tpr", "type": "quantitative", "scale": {"domain": [-0.05, 1.05], "nice": false, "zero": false}, "axis": {"title": "Sensitivity", "values": [0, 0.2, 0.4, 0.6, 0.8, 1.0], "format": ".1f"}}
          }
        },
        {
          "data": {"name": "test_band"},
          "mark": {"type": "area", "opacity": 0.32},
          "encoding": {
            "x": {"field": "fpr", "type": "quantitative"},
            "y": {"field": "lo", "type": "quantitative"},
            "y2": {"field": "hi"},
            "fill": {"field": "series", "type": "nominal", "scale": {"domain": ["CFG", "DFG", "RFG", "HFG"], "range": ["#FFC984", "#8CC3DD", "#62D462", "#F67956"]}, "legend": null}
          }
        },
        {
          "data": {"name": "test_mean"},
          "mark": {"type": "line", "strokeWidth": 4},
          "encoding": {
            "x": {"field": "fpr", "type": "quantitative"},
            "y": {"field": "tpr", "type": "quantitative"},
            "stroke": {"field": "series", "type": "nominal", "scale": {"domain": ["CFG, Mean AUC: 0.51", "DFG, Mean AUC: 0.60", "RFG, Mean AUC: 0.74", "HFG, Mean AUC: 0.75"], "range": ["#FFA500", "#0000FF", "#008000", "#FF0000"]}, "legend": {"title": null}}
          }
        }
      ]
    }
  ]
}
